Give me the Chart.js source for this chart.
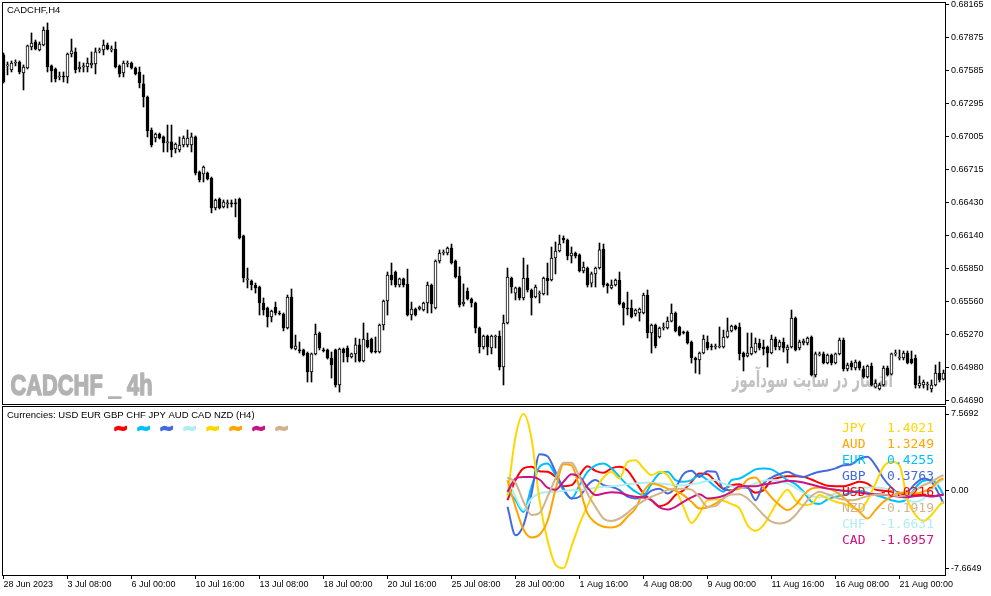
<!DOCTYPE html>
<html><head><meta charset="utf-8">
<script src="https://cdn.jsdelivr.net/npm/chart.js@4/dist/chart.umd.min.js"></script>
<style>
html,body{margin:0;padding:0;background:#fff;overflow:hidden}
#wrap{position:relative;width:991px;height:596px;background:#fff}
canvas{position:absolute;left:0}
#c1{top:0}
#c2{top:405px}
</style></head><body>
<div id="wrap"><canvas id="c1" width="991" height="405"></canvas><canvas id="c2" width="991" height="191"></canvas></div>
<script>
// ---------- price data (CADCHF H4, in points: price = value / 100000) ----------
const openP = [
67726,67629,67594,67655,67664,67567,67611,67796,67840,67770,
67813,67945,67629,67602,67532,67541,67532,67734,67752,67602,
67620,67620,67638,67646,67761,67770,67813,67770,67778,67629,
67567,67646,67655,67611,67576,67471,67356,67066,66996,67031,
67005,66952,66961,66899,66891,66934,66934,66934,67005,66697,
66680,66688,66644,66381,66460,66389,66416,66425,66425,66460,
66135,65748,65739,65704,65686,65546,65502,65423,65510,65458,
65449,65326,65598,65141,65133,65133,65106,64939,65098,65282,
65133,65133,65062,65133,64825,65141,65150,65071,65098,65177,
65036,65220,65229,65124,65115,65352,65563,65792,65818,65704,
65757,65713,65440,65493,65493,65484,65546,65704,65502,65915,
65985,65985,66029,65915,65783,65537,65651,65581,65546,65326,
65159,65256,65150,65247,65256,64983,65370,65765,65633,65678,
65590,65765,65660,65598,65625,65625,65765,65748,65941,66003,
66117,66099,65959,65985,65968,65827,65853,65721,65801,65853,
66020,65713,65678,65704,65748,65546,65502,65502,65449,65458,
65458,65616,65282,65352,65247,65326,65326,65387,65458,65335,
65291,65291,65203,65062,65045,65106,65203,65168,65159,65159,
65159,65247,65300,65343,65335,65106,65080,65098,65115,65194,
65159,65159,65106,65229,65159,65203,65133,65159,65414,65150,
65194,65194,65247,64913,65089,65098,65018,65089,65018,65098,
65220,64966,65018,64974,65027,64966,64895,64992,64807,64790,
64825,64974,64921,65098,65062,65062,65106,65053,65062,64816,
64825,64825,64790,64825,64930,64877];
const highP = [
67743,67664,67673,67682,67673,67638,67813,67919,67857,67840,
67972,68007,67638,67611,67576,67576,67743,67866,67787,67664,
67655,67699,67752,67787,67787,67857,67831,67805,67840,67638,
67673,67673,67664,67620,67620,67550,67365,67084,67040,67040,
67014,67110,67110,66952,67005,67014,67066,67040,67014,66706,
66750,66697,66653,66460,66469,66451,66451,66451,66460,66469,
66143,65853,65748,65721,65695,65590,65510,65484,65554,65475,
65458,65616,65669,65264,65203,65141,65115,65106,65361,65291,
65150,65141,65115,65141,65150,65150,65168,65106,65238,65229,
65370,65282,65238,65247,65361,65572,65818,65897,65827,65765,
65765,65844,65554,65502,65519,65554,65730,65713,65924,66012,
66012,66038,66064,65924,65862,65713,65678,65590,65554,65335,
65264,65264,65264,65264,65300,65440,65853,65774,65686,65686,
65941,65880,65669,65704,65651,65774,65897,66038,66082,66143,
66135,66108,66038,65994,65977,65906,65862,65818,65862,66073,
66064,65721,65748,65757,65818,65554,65642,65572,65493,65502,
65633,65660,65361,65361,65335,65370,65423,65537,65467,65343,
65300,65300,65212,65071,65115,65264,65256,65185,65185,65335,
65308,65414,65352,65352,65370,65115,65282,65282,65238,65229,
65220,65168,65264,65247,65220,65238,65177,65484,65423,65220,
65229,65247,65256,65115,65115,65115,65098,65098,65106,65238,
65238,65018,65036,65045,65036,64992,65001,65018,64869,64842,
64992,64992,65106,65133,65133,65124,65124,65124,65089,64904,
64869,64851,64869,65001,65027,64957];
const lowP = [
67479,67550,67576,67629,67559,67418,67602,67770,67770,67761,
67805,67576,67488,67488,67506,67488,67479,67708,67567,67576,
67576,67576,67611,67559,67743,67726,67770,67752,67611,67532,
67532,67620,67602,67550,67436,67268,67005,66917,66961,66987,
66873,66873,66829,66864,66873,66917,66917,66873,66671,66609,
66609,66627,66337,66363,66372,66381,66381,66389,66302,66108,
65730,65678,65660,65633,65440,65440,65335,65379,65440,65440,
65300,65317,65141,65133,65106,65080,64851,64851,65089,65133,
65115,65053,64886,64807,64763,65027,65027,65062,65027,65027,
65027,65150,65106,65106,65106,65308,65440,65704,65686,65686,
65686,65431,65396,65431,65484,65475,65458,65458,65493,65897,
65968,65968,65888,65765,65510,65519,65572,65510,65282,65106,
65141,65089,65098,65150,64957,64825,65361,65633,65572,65572,
65572,65642,65440,65590,65546,65616,65616,65739,65801,65994,
66073,65924,65897,65941,65818,65810,65686,65686,65686,65844,
65686,65633,65669,65695,65528,65352,65440,65414,65431,65387,
65449,65238,65106,65150,65238,65308,65317,65379,65291,65256,
65273,65185,65018,64930,64921,65098,65133,65133,65141,65150,
65150,65238,65291,65308,65045,64948,65071,65089,65106,65133,
65089,64983,65098,65133,65133,65115,65018,65150,65124,65133,
65177,65177,64904,64895,65080,65010,65010,65001,65010,65089,
64948,64948,64957,64957,64957,64886,64886,64816,64798,64781,
64816,64904,64913,65080,65045,65045,65010,65010,64798,64798,
64798,64781,64763,64816,64851,64869];
const closeP = [
67488,67638,67655,67664,67576,67620,67805,67831,67778,67822,
67945,67620,67585,67515,67541,67532,67734,67761,67594,67620,
67629,67655,67655,67752,67770,67813,67778,67778,67620,67559,
67655,67655,67611,67559,67479,67356,67058,66934,67031,66996,
66952,66961,66891,66943,66934,66996,66996,67005,66688,66627,
66741,66636,66381,66451,66381,66433,66425,66416,66416,66117,
65765,65757,65704,65678,65546,65484,65423,65475,65458,65449,
65326,65598,65150,65168,65124,65089,64939,65098,65273,65150,
65124,65062,65001,64825,65141,65106,65071,65098,65177,65036,
65229,65159,65115,65115,65352,65563,65792,65748,65704,65757,
65704,65440,65493,65440,65510,65546,65704,65537,65915,65985,
65994,66029,65897,65774,65528,65554,65581,65546,65326,65159,
65256,65159,65256,65256,64983,65370,65774,65686,65678,65590,
65765,65660,65590,65686,65633,65765,65739,65941,66003,66064,
66099,65959,65985,65959,65827,65862,65704,65801,65853,66012,
65704,65695,65704,65748,65537,65502,65493,65423,65484,65493,
65616,65282,65352,65168,65326,65335,65387,65458,65300,65264,
65282,65194,65062,65045,65106,65229,65150,65159,65168,65168,
65247,65300,65343,65317,65098,65071,65106,65159,65194,65150,
65141,65106,65229,65159,65203,65150,65159,65414,65133,65203,
65212,65238,64913,65098,65098,65018,65089,65018,65098,65220,
64966,65001,64983,65027,64974,64895,64992,64825,64842,64825,
64974,64913,65098,65106,65071,65106,65018,65018,64825,64842,
64851,64834,64825,64930,64869,64930];
const POINT = 100000;

// ---------- x axis (H4 bars) ----------
const tickBars = [0,16,32,48,64,80,96,112,128,144,160,176,192,208,224];
const tickLabels = ['28 Jun 2023','3 Jul 08:00','6 Jul 00:00','10 Jul 16:00','13 Jul 08:00','18 Jul 00:00','20 Jul 16:00','25 Jul 08:00','28 Jul 00:00','1 Aug 16:00','4 Aug 08:00','9 Aug 00:00','11 Aug 16:00','16 Aug 08:00','21 Aug 00:00'];
const priceTicks = [0.68165,0.67875,0.67585,0.67295,0.67005,0.66715,0.66430,0.66140,0.65850,0.65560,0.65270,0.64980,0.64690];
const priceTickLabels = ['0.68165','0.67875','0.67585','0.67295','0.67005','0.66715','0.66430','0.66140','0.65850','0.65560','0.65270','0.64980','0.64690'];

// ---------- currency strength indicator ----------
const indBars = [126,128,130,132,134,136,138,140,142,144,146,148,150,152,154,156,158,160,162,164,166,168,170,172,174,176,178,180,182,184,186,188,190,192,194,196,198,200,202,204,206,208,210,212,214,216,218,220,222,224,226,228,230,232,234,235];
const usd = [-0.94,1.04,2.2,2.35,1.92,1.86,1.36,0.44,0.54,1.53,2.42,1.96,1.76,2.2,2.35,2.0,0.87,-0.28,-0.94,-1.53,-1.27,-0.44,0.05,0.87,1.7,1.63,0.87,0.2,0.54,0.64,0.3,-0.2,0.05,1.04,1.3,1.43,1.43,1.36,1.1,0.77,0.48,0.44,0.44,0.64,0.87,0.7,0.1,0,-0.1,-0.2,-0.54,-0.44,-0.38,-0.54,-0.48,-0.4];
const eur = [0.05,-0.94,-2.1,0.38,2.35,2.68,1.53,0.05,-0.77,0.54,1.86,2.5,2.68,2.2,1.36,0.54,-0.1,-0.44,0.7,1.7,1.86,1.04,0.87,1.04,1.53,1.04,0.38,-0.1,1.04,1.2,1.63,2.1,2.2,2.1,1.63,1.04,0.64,-0.1,-1.1,-1.33,-0.87,-0.6,-0.44,-0.2,0,-0.2,-0.44,-0.67,-0.94,-1.1,-0.77,0.3,0.97,1.04,0.3,-0.44];
const gbp = [-1.6,-4.4,-3.4,-0.3,3.6,3.4,1.86,0.2,-0.77,-0.6,0.54,1.04,0.54,0.38,0.05,-0.6,-0.77,-0.6,0,0.2,-0.28,0.3,1.63,1.96,1.36,1.92,1.86,0.1,0.05,0.3,0.3,-0.94,0.7,1.3,1.63,1.86,1.53,1.36,1.63,1.86,2.0,2.2,2.5,2.6,3.17,3.34,2.5,1.2,0.3,-0.28,-0.1,0.7,1.2,0.87,-0.44,-1.27];
const chf = [1.36,-0.6,-1.9,-0.77,-0.28,-0.15,-0.1,0,0.05,0.05,0.15,0.28,0.38,0.44,0.5,0.64,0.7,0.77,0.77,0.7,0.64,0.54,0.5,0.64,0.77,0.97,1.04,0.7,0.44,0.3,0.44,0.7,0.97,1.04,0.97,0.7,0.3,-0.2,-0.54,-0.67,-0.54,-0.28,0,0.18,0.3,0.3,0.3,0.25,0.05,-0.44,-0.94,-1.1,-0.77,0.05,0.87,1.04];
const jpy = [-0.5,5.3,7.5692,5.15,-0.94,-4.9,-7.3,-7.6649,-5.5,-3.3,-1.5,0.1,1.3,1.86,1.2,2.85,3.0,2.2,1.53,1.86,1.53,0.2,-1.6,-3.2,-2.25,-0.94,-0.87,-1.0,-1.33,-1.76,-3.4,-3.96,-3.4,-2.1,-0.77,0.1,-0.94,-1.43,-1.33,-0.44,-0.77,-1.1,-1.27,-1.6,-1.9,-0.94,0.7,2.35,2.85,2.5,-0.94,-2.4,-3.0,-2.4,-1.43,-1.1];
const aud = [1.04,-1.6,-3.83,-4.62,-4.35,-3.0,0.1,2.6,2.5,0.3,-2.25,-3.17,-3.57,-3.63,-3.4,-2.58,-1.76,-0.1,0.7,0.54,0.2,0,-0.44,-1.1,-1.76,-1.66,-1.27,-0.77,0,0.2,1.1,1.3,0.3,-0.67,-1.43,-1.92,-1.43,-0.44,0.2,0.3,0.2,-0.1,-0.67,-1.43,-2.1,-2.75,-1.92,-1.1,-0.6,-0.2,-0.2,-0.28,-0.1,0.3,1.04,1.2];
const cad = [-0.12,1.2,1.36,1.36,1.1,0.3,0.1,0.87,1.63,1.36,0.3,-0.44,-0.28,-0.15,-0.2,-0.44,-0.6,-0.67,-0.94,-1.66,-1.86,-1.6,-1.1,-0.67,-0.35,-0.77,-0.7,-0.5,-0.15,0.44,0.44,0.44,0.6,0.7,0.84,0.97,0.94,0.8,0.6,0.38,0.2,0.1,0,-0.08,-0.2,-0.3,-0.35,-0.4,-0.5,-0.6,-0.64,-0.54,-0.48,-0.58,-0.44,-0.38];
const nzd = [1.3,0.77,-1.1,-2.4,-2.2,-0.6,1.2,2.75,2.75,1.36,-0.3,-1.6,-2.75,-3.0,-2.75,-2.2,-1.53,-1.0,-0.6,-0.28,0.05,0.2,0.2,0.1,-0.67,-1.6,-1.53,-0.77,-0.38,-0.35,-0.77,-1.53,-2.4,-3.07,-3.24,-3.07,-2.4,-1.43,-0.54,-0.1,-0.35,-0.67,-0.87,-0.94,-0.8,-0.54,-0.4,-0.38,-0.44,-0.54,-0.44,0.05,0.54,0.87,1.36,1.53];
const indTicks = [7.5692, 0, -7.6649];
const indTickLabels = ['7.5692','0.00','-7.6649'];
const legendNames = ['USD','EUR','GBP','CHF','JPY','AUD','CAD','NZD'];
const legendColors = ['#FF0000','#00BFFF','#4169E1','#AFEEEE','#FFD700','#FFA500','#C71585','#D2B48C'];
const tableNames = ['JPY','AUD','EUR','GBP','USD','NZD','CHF','CAD'];
const tableValues = ['1.4021','1.3249','0.4255','0.3763','-0.0216','-0.1919','-1.6631','-1.6957'];
const tableColors = ['#FFD700','#FFA500','#00BFFF','#4169E1','#FF0000','#D2B48C','#AFEEEE','#C71585'];

// ---------- common ----------
Chart.defaults.font.family = '"Liberation Sans", Arial, sans-serif';
Chart.defaults.font.size = 9;
Chart.defaults.color = '#000';
const X_MIN = -0.375, X_MAX = 235.375;
const bars = openP.map((_, i) => i);

function fixWidth(w) { return s => { s.width = w; s.paddingTop = 0; s.paddingBottom = 0; }; }

const whiteBg = {
  id: 'whiteBg',
  beforeDraw(c) { const g = c.ctx; g.save(); g.fillStyle = '#fff'; g.fillRect(0, 0, c.width, c.height); g.restore(); }
};

// ---------- top chart ----------
const topDecor = {
  id: 'topDecor',
  beforeDatasetsDraw(c) {
    const g = c.ctx; g.save();
    g.fillStyle = '#b3b3b3'; g.strokeStyle = '#b3b3b3'; g.lineWidth = 1.6; g.lineJoin = 'round';
    g.font = 'bold 30px "Liberation Sans", Arial, sans-serif';
    g.textBaseline = 'alphabetic'; g.textAlign = 'left';
    const t1 = 'CADCHF _ 4h';
    const w1 = g.measureText(t1).width;
    g.translate(10.5, 395); g.scale(142 / w1, 1); g.fillText(t1, 0, 0); g.strokeText(t1, 0, 0);
    g.restore();
    g.save();
    g.fillStyle = '#c2c2c2';
    g.font = 'bold 22px "DejaVu Sans", sans-serif';
    g.direction = 'rtl'; g.textAlign = 'right'; g.textBaseline = 'alphabetic';
    const t2 = 'انتشار در سایت سودآموز';
    const w2 = g.measureText(t2).width;
    g.translate(893, 387); g.scale(161 / w2, 1); g.fillText(t2, 0, 0);
    g.restore();
  },
  afterDraw(c) {
    const g = c.ctx, a = c.chartArea; g.save();
    g.strokeStyle = '#000'; g.lineWidth = 1;
    g.strokeRect(a.left + 0.5, a.top + 0.5, a.right - a.left, a.bottom - a.top);
    g.fillStyle = '#000'; g.font = '9.5px "Liberation Sans", Arial, sans-serif';
    g.textBaseline = 'middle'; g.textAlign = 'left';
    g.fillText('CADCHF,H4', 7, 10);
    g.restore();
  }
};

new Chart(document.getElementById('c1'), {
  type: 'bar',
  data: {
    datasets: [
      { data: bars.map(i => ({ x: i, y: [lowP[i] / POINT, highP[i] / POINT] })),
        backgroundColor: '#000', borderWidth: 0, barThickness: 1, grouped: false, order: 2 },
      { data: bars.map(i => ({ x: i, y: [openP[i] / POINT, closeP[i] / POINT] })),
        backgroundColor: bars.map(i => closeP[i] >= openP[i] ? '#fff' : '#000'),
        borderColor: '#000', borderWidth: 1, borderSkipped: false, barThickness: 3,
        minBarLength: 1, grouped: false, order: 1 }
    ]
  },
  options: {
    responsive: false, animation: false, devicePixelRatio: 1, events: [],
    layout: { padding: { left: 2, top: 2, right: 0, bottom: 1 }, autoPadding: false },
    plugins: { legend: { display: false }, tooltip: { enabled: false } },
    scales: {
      x: { type: 'linear', min: X_MIN, max: X_MAX, offset: false, display: false, grid: { offset: false } },
      y: {
        position: 'right', min: 0.64658, max: 0.68191,
        afterBuildTicks: s => { s.ticks = priceTicks.map(v => ({ value: v })); },
        afterFit: fixWidth(46),
        border: { display: false },
        grid: { display: true, drawOnChartArea: false, drawTicks: true, tickLength: 4, color: '#000' },
        ticks: { autoSkip: false, padding: 2, font: { size: 9 }, color: '#000',
                 callback: (v, idx) => priceTickLabels[idx] }
      }
    }
  },
  plugins: [whiteBg, topDecor]
});

// ---------- bottom chart ----------
const botDecor = {
  id: 'botDecor',
  afterDatasetsDraw(c) {
    const g = c.ctx; g.save();
    g.fillStyle = '#000'; g.font = '9.5px "Liberation Sans", Arial, sans-serif';
    g.textBaseline = 'middle'; g.textAlign = 'left';
    g.fillText('Currencies: ' + legendNames.join(' ') + ' (H4)', 7, 10);
    g.font = 'bold 17px "DejaVu Sans", sans-serif';
    g.textBaseline = 'alphabetic'; g.textAlign = 'center';
    g.lineWidth = 2.2; g.lineJoin = 'round';
    legendColors.forEach((col, k) => {
      g.fillStyle = col; g.strokeStyle = col;
      g.fillText('~', 120.5 + 23 * k, 29); g.strokeText('~', 120.5 + 23 * k, 29);
    });
    g.font = '13px "DejaVu Sans Mono", monospace';
    g.textBaseline = 'middle';
    tableNames.forEach((n, k) => {
      g.fillStyle = tableColors[k];
      g.textAlign = 'left'; g.fillText(n, 842, 24 + 16 * k);
      g.textAlign = 'right'; g.fillText(tableValues[k], 934, 24 + 16 * k);
    });
    g.restore();
  },
  afterDraw(c) {
    const g = c.ctx, a = c.chartArea; g.save();
    g.strokeStyle = '#000'; g.lineWidth = 1;
    g.strokeRect(a.left + 0.5, a.top + 0.5, a.right - a.left, a.bottom - a.top);
    g.restore();
  }
};

const series = [usd, eur, gbp, chf, jpy, aud, cad, nzd];
new Chart(document.getElementById('c2'), {
  type: 'line',
  data: {
    datasets: series.map((s, k) => ({
      data: indBars.map((x, j) => ({ x: x, y: s[j] })),
      borderColor: legendColors[k], borderWidth: 2, pointRadius: 0, fill: false,
      cubicInterpolationMode: 'monotone', order: 8 - k
    }))
  },
  options: {
    responsive: false, animation: false, devicePixelRatio: 1, events: [],
    layout: { padding: { left: 2, top: 1, right: 0, bottom: 0 }, autoPadding: false },
    plugins: { legend: { display: false }, tooltip: { enabled: false } },
    scales: {
      x: {
        type: 'linear', min: X_MIN, max: X_MAX, offset: false,
        afterBuildTicks: s => { s.ticks = tickBars.map(v => ({ value: v })); },
        afterFit: s => { s.height = 21; s.paddingLeft = 0; s.paddingRight = 0; },
        border: { display: false },
        grid: { display: true, drawOnChartArea: false, drawTicks: true, tickLength: 4, color: '#000', offset: false },
        ticks: { autoSkip: false, maxRotation: 0, minRotation: 0, align: 'start', padding: 0,
                 font: { size: 9 }, color: '#000',
                 callback: (v, idx) => tickLabels[idx] }
      },
      y: {
        position: 'right', min: -8.33, max: 8.36,
        afterBuildTicks: s => { s.ticks = indTicks.map(v => ({ value: v })); },
        afterFit: fixWidth(46),
        border: { display: false },
        grid: { display: true, drawOnChartArea: false, drawTicks: true, tickLength: 4, color: '#000' },
        ticks: { autoSkip: false, padding: 2, font: { size: 9 }, color: '#000',
                 callback: (v, idx) => indTickLabels[idx] }
      }
    }
  },
  plugins: [whiteBg, botDecor]
});
</script>
</body></html>
